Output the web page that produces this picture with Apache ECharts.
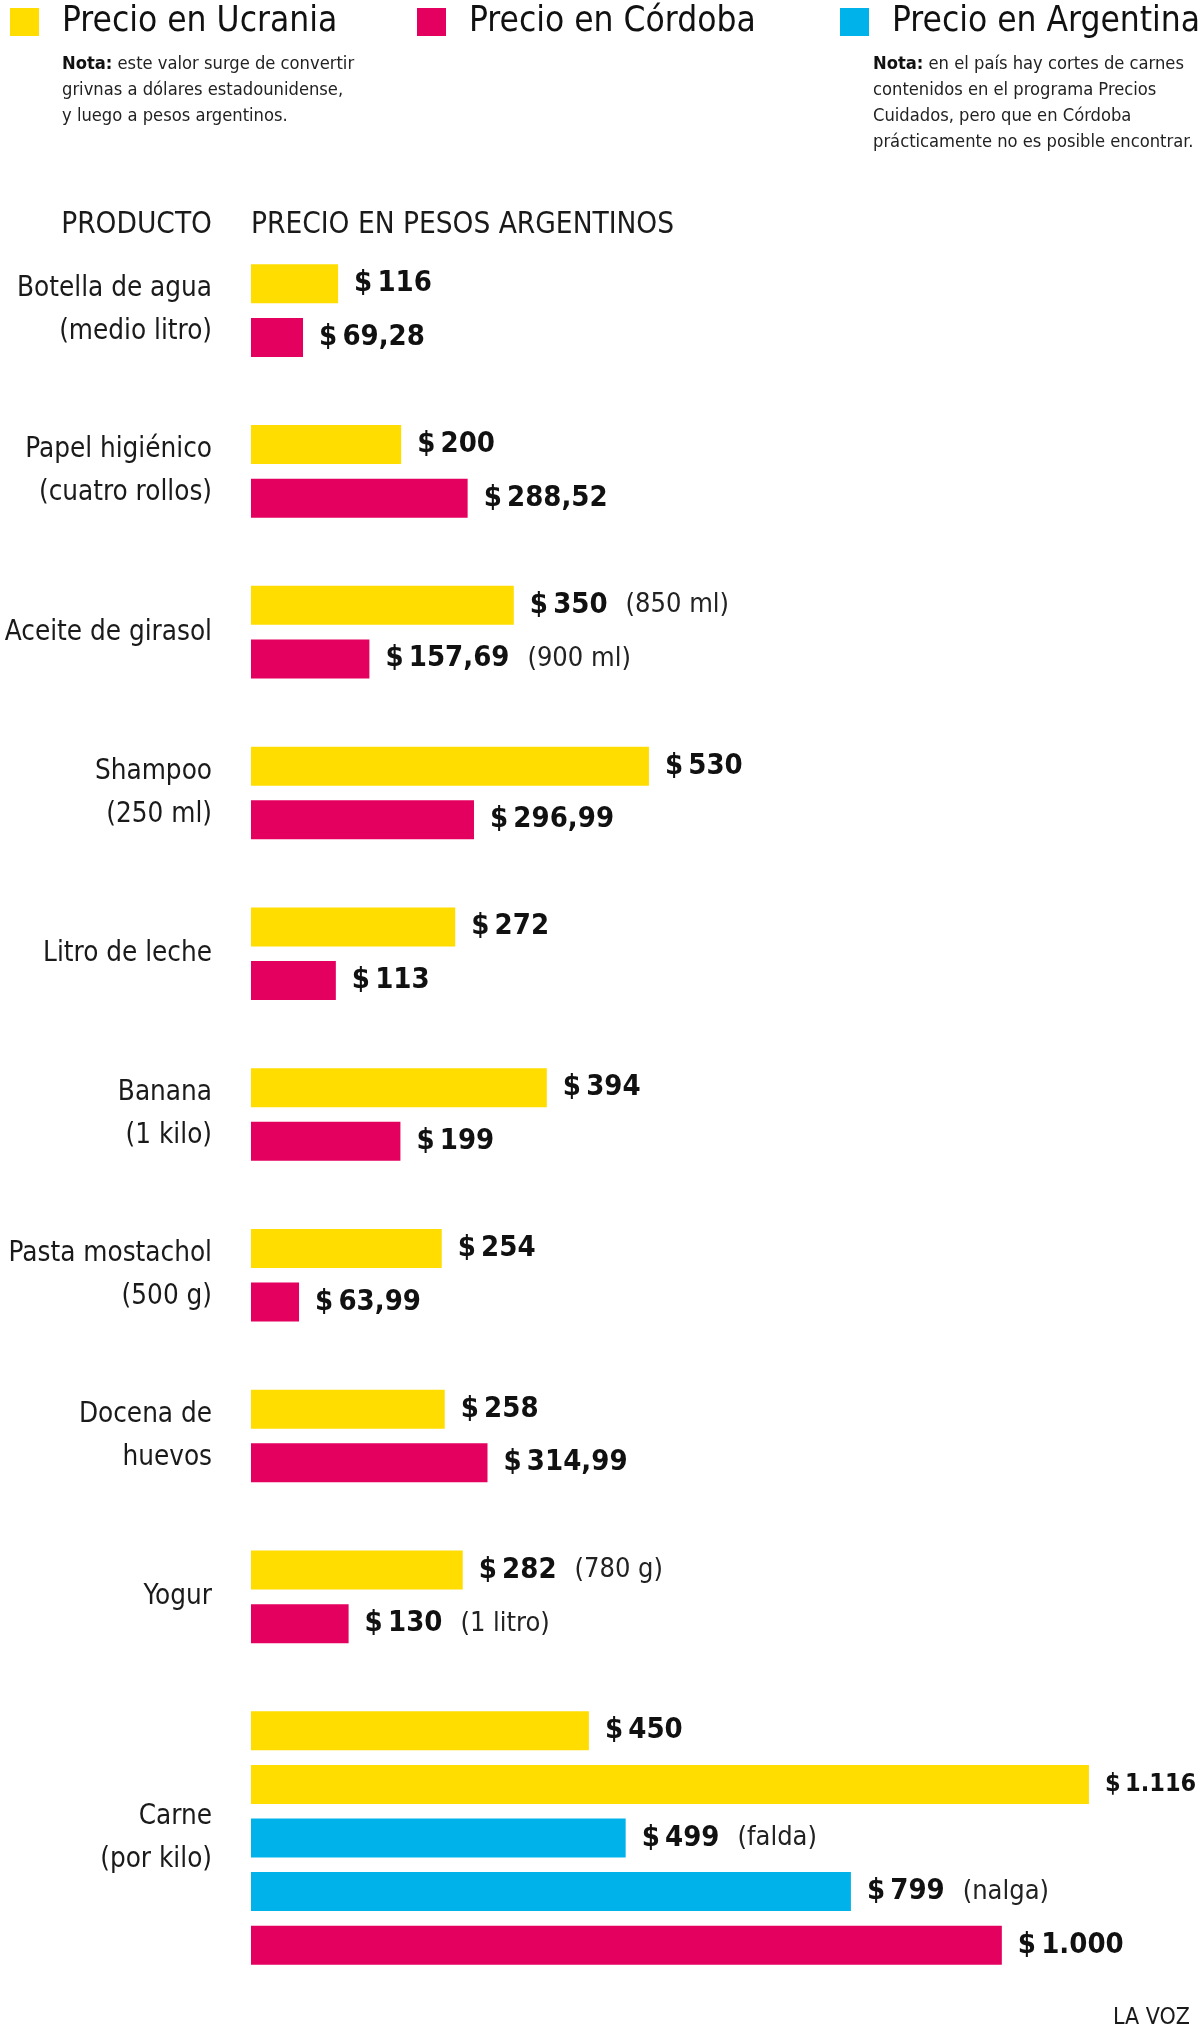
<!DOCTYPE html>
<html>
<head>
<meta charset="utf-8">
<script src="https://cdn.jsdelivr.net/npm/echarts@6/dist/echarts.min.js"></script>
<style>
  html, body { margin: 0; padding: 0; background: #fff; }
  #chart { width: 1200px; height: 2044px; }
</style>
</head>
<body>
<div id="chart"></div>
<script>
// datos
const productos = [
  'Botella de agua\n(medio litro)',
  'Papel higiénico\n(cuatro rollos)',
  'Aceite de girasol',
  'Shampoo\n(250 ml)',
  'Litro de leche',
  'Banana\n(1 kilo)',
  'Pasta mostachol\n(500 g)',
  'Docena de\nhuevos',
  'Yogur'
]
const precioUcrania = [116, 200, 350, 530, 272, 394, 254, 258, 282]
const precioCordoba = [69.28, 288.52, 157.69, 296.99, 113, 199, 63.99, 314.99, 130]
const notaUcrania = ['', '', '(850 ml)', '', '', '', '', '', '(780 g)']
const notaCordoba = ['', '', '(900 ml)', '', '', '', '', '', '(1 litro)']

const carneProducto = 'Carne\n(por kilo)'
const carneUcrania = [450, 1116]
const carneArgentina = [499, 799]
const carneArgentinaNota = ['(falda)', '(nalga)']
const carneCordoba = [1000]

const notaIzquierda = [
  '{b|Nota:} este valor surge de convertir',
  'grivnas a dólares estadounidense,',
  'y luego a pesos argentinos.'
]
const notaDerecha = [
  '{b|Nota:} en el país hay cortes de carnes',
  'contenidos en el programa Precios',
  'Cuidados, pero que en Córdoba',
  'prácticamente no es posible encontrar.'
]

const FONT = '"Liberation Sans Narrow", "DejaVu Sans Condensed", "Roboto", sans-serif'
const COLORS = { u: '#FFDD00', c: '#E4005F', a: '#00B2EA' }
const X_MAX = 1200

// una fila por barra, con una fila vacía entre productos
const rows = []
productos.forEach((p, i) => {
  rows.push({ label: p, shift: true, s: 'u', v: precioUcrania[i], nota: notaUcrania[i] })
  rows.push({ label: '', s: 'c', v: precioCordoba[i], nota: notaCordoba[i] })
  rows.push({ label: '' })
})
carneUcrania.forEach((v) => rows.push({ label: '', s: 'u', v: v, nota: '' }))
carneArgentina.forEach((v, i) => rows.push({ label: '', s: 'a', v: v, nota: carneArgentinaNota[i] }))
carneCordoba.forEach((v) => rows.push({ label: '', s: 'c', v: v, nota: '' }))
rows[rows.length - 3].label = carneProducto

function fmt(v) {
  const parts = v.toFixed(v % 1 ? 2 : 0).split('.')
  parts[0] = parts[0].replace(/\B(?=(\d{3})+(?!\d))/g, '.')
  return '$\u2009' + parts.join(',')
}

function seriesData(key) {
  return rows.map((r) => (r.s === key ? r.v : '-'))
}

function makeSeries(name, key) {
  return {
    name: name,
    type: 'bar',
    data: seriesData(key),
    barWidth: 39,
    barGap: '-100%',
    itemStyle: { color: COLORS[key] },
    silent: true,
    label: {
      show: true,
      position: 'right',
      distance: 16,
      formatter: (p) => {
        const r = rows[p.dataIndex]
        // la etiqueta de la barra más larga se achica para no cortarse
        const st = r.v > X_MAX * 0.9 ? 'vs' : 'v'
        return '{' + st + '|' + fmt(r.v) + '}' + (r.nota ? '{g|}{n|' + r.nota + '}' : '')
      },
      rich: {
        v: { fontFamily: FONT, fontWeight: 'bold', fontSize: 29, color: '#111' },
        vs: { fontFamily: FONT, fontWeight: 'bold', fontSize: 25, color: '#111' },
        g: { width: 18 },
        n: { fontFamily: FONT, fontSize: 27, color: '#222' }
      }
    }
  }
}

function legendAt(name, left) {
  return {
    data: [name],
    left: left,
    top: 0,
    padding: 0,
    icon: 'rect',
    itemWidth: 29,
    itemHeight: 28,
    selectedMode: false,
    textStyle: {
      fontFamily: FONT,
      fontSize: 35,
      lineHeight: 44,
      color: '#111',
      padding: [0, 0, 0, 18]
    }
  }
}

function notaText(lines, left) {
  return {
    type: 'text',
    left: left,
    top: 51,
    style: {
      text: lines.join('\n'),
      fontFamily: FONT,
      fontSize: 18.2,
      lineHeight: 26,
      fill: '#222',
      rich: {
        b: { fontFamily: FONT, fontSize: 18.2, fontWeight: 'bold', lineHeight: 26, fill: '#111' }
      }
    }
  }
}

const chart = echarts.init(document.getElementById('chart'))

chart.setOption({
  animation: false,
  backgroundColor: '#fff',
  legend: [
    legendAt('Precio en Ucrania', 10),
    legendAt('Precio en Córdoba', 417),
    legendAt('Precio en Argentina', 840)
  ],
  grid: { left: 251, right: 48, top: 257, bottom: 72, outerBoundsMode: 'none' },
  xAxis: { type: 'value', min: 0, max: X_MAX, show: false },
  yAxis: {
    type: 'category',
    inverse: true,
    data: rows.map((r, i) => String(i)),
    axisLine: { show: false },
    axisTick: { show: false },
    splitLine: { show: false },
    axisLabel: {
      interval: 0,
      margin: 39,
      align: 'right',
      formatter: (value, index) => {
        const r = rows[index]
        if (!r || !r.label) return ''
        const lines = r.label.split('\n').map((l) => '{t|' + l + '}')
        // los productos de dos barras se centran entre ambas filas
        return (r.shift ? '{s| }\n' : '') + lines.join('\n')
      },
      rich: {
        t: { fontFamily: FONT, fontSize: 27.6, lineHeight: 43, color: '#1a1a1a', align: 'right' },
        s: { fontSize: 10, lineHeight: 54, height: 54 }
      }
    }
  },
  graphic: [
    notaText(notaIzquierda, 62),
    notaText(notaDerecha, 873),
    {
      type: 'text',
      right: 988,
      top: 210,
      style: { text: 'PRODUCTO', fontFamily: FONT, fontSize: 29.5, fill: '#1a1a1a' }
    },
    {
      type: 'text',
      left: 251,
      top: 210,
      style: { text: 'PRECIO EN PESOS ARGENTINOS', fontFamily: FONT, fontSize: 29.5, fill: '#1a1a1a' }
    },
    {
      type: 'text',
      right: 10,
      top: 2007,
      style: { text: 'LA VOZ', fontFamily: FONT, fontSize: 23, fill: '#1a1a1a' }
    }
  ],
  series: [
    makeSeries('Precio en Ucrania', 'u'),
    makeSeries('Precio en Córdoba', 'c'),
    makeSeries('Precio en Argentina', 'a')
  ]
})
</script>
</body>
</html>
